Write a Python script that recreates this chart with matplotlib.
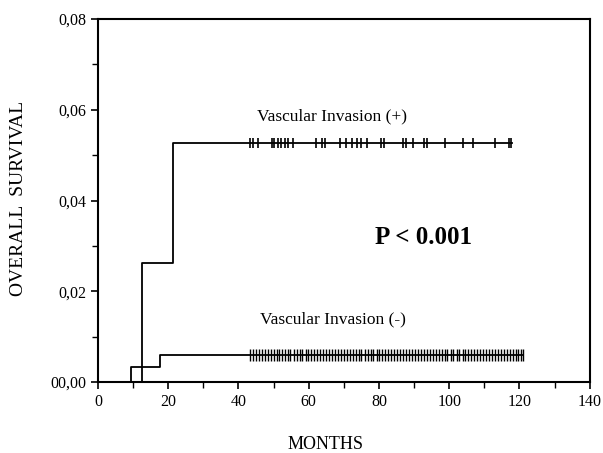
import matplotlib
matplotlib.use("Agg")
import matplotlib.pyplot as plt
from matplotlib.ticker import MultipleLocator, FixedLocator, FixedFormatter

plt.rcParams['font.family'] = ['Liberation Serif', 'DejaVu Serif']

# step curves (months, survival level)
pos_t = [0, 12.5, 21.3, 118.0]
pos_s = [0, 0.0262, 0.0527, 0.0527]
neg_t = [0, 9.3, 17.6, 121.0]
neg_s = [0, 0.0032, 0.0060, 0.0060]

# censored observations
pos_cens = [43.3, 44.2, 45.6, 49.4, 50.1, 51.3, 52.0, 53.2, 54.2, 55.6,
            62.2, 63.7, 64.6, 68.9, 70.6, 72.2, 73.6, 75.0, 76.5, 80.7,
            81.5, 86.9, 87.8, 89.7, 92.9, 93.8, 98.7, 104.0, 106.8, 113.0,
            117.0, 117.7]
neg_cens = [43.3, 44.1, 45.0, 45.9, 46.6, 47.5, 48.4, 49.2, 50.0, 50.9,
            51.6, 52.3, 53.2, 54.1, 54.8, 55.7, 56.6, 57.4, 58.2, 59.1,
            59.9, 60.7, 61.6, 62.4, 63.3, 64.1, 64.9, 65.8, 66.7, 67.4,
            68.3, 69.2, 70.0, 70.8, 71.7, 72.5, 73.4, 74.2, 75.0, 75.9,
            76.8, 77.6, 78.4, 79.3, 80.1, 80.9, 81.8, 82.7, 83.5, 84.3,
            85.2, 86.0, 86.9, 87.7, 88.6, 89.4, 90.2, 91.1, 92.0, 92.8,
            93.6, 94.5, 95.3, 96.2, 97.0, 97.8, 98.7, 99.5, 100.4, 101.2,
            102.1, 102.9, 103.8, 104.6, 105.4, 106.3, 107.1, 108.0, 108.8, 109.7,
            110.5, 111.3, 112.2, 113.0, 113.9, 114.7, 115.5, 116.4, 117.2, 118.1,
            118.9, 119.6, 120.5, 121.0]

yticks = [0, 0.02, 0.04, 0.06, 0.08]
ylabels = ['00,00', '0,02', '0,04', '0,06', '0,08']

fig = plt.figure(figsize=(6.03, 4.53), dpi=100)
ax = fig.add_axes([0.1625, 0.1567, 0.8155, 0.8013])

ax.step(pos_t, pos_s, where='post', color='black', lw=1.3)
ax.step(neg_t, neg_s, where='post', color='black', lw=1.3)
ax.plot(pos_cens, [pos_s[-1]] * len(pos_cens), ls='none', marker='|',
        ms=7, mew=1.2, color='black')
ax.plot(neg_cens, [neg_s[-1]] * len(neg_cens), ls='none', marker='|',
        ms=8, mew=1.0, color='black')

ax.text(45.2, 0.0576, 'Vascular Invasion (+)', fontsize=12.5)
ax.text(46, 0.0130, 'Vascular Invasion (-)', fontsize=12.5)
ax.text(79, 0.0305, 'P < 0.001', fontsize=18, fontweight='bold')

ax.set_xlim(0, 140)
ax.set_ylim(0, 0.08)
ax.xaxis.set_major_locator(MultipleLocator(20))
ax.xaxis.set_minor_locator(MultipleLocator(10))
ax.yaxis.set_major_locator(FixedLocator(yticks))
ax.yaxis.set_major_formatter(FixedFormatter(ylabels))
ax.yaxis.set_minor_locator(MultipleLocator(0.01))
ax.tick_params(which='both', direction='out', labelsize=11.5)
ax.tick_params(which='major', length=5, width=1.2)
ax.tick_params(which='minor', length=4, width=1.0)
for s in ax.spines.values():
    s.set_linewidth(1.5)

fig.text(0.031, 0.561, 'OVERALL  SURVIVAL', rotation=90, fontsize=14,
         ha='center', va='center')
fig.text(0.54, 0.018, 'MONTHS', fontsize=13, ha='center', va='center')

fig.savefig('out.png', dpi=100)
